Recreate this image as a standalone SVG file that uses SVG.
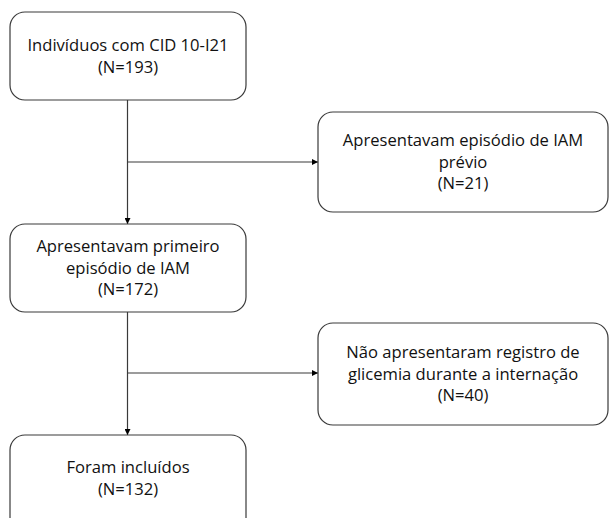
<svg xmlns="http://www.w3.org/2000/svg" width="609" height="518" viewBox="0 0 609 518">
  <defs>
    <marker id="arrow" viewBox="0 0 10 10" refX="10" refY="5" markerWidth="6" markerHeight="6" markerUnits="userSpaceOnUse" orient="auto">
      <path d="M0,0 L10,5 L0,10 z" fill="#000"/>
    </marker>
    <style>
      .box { fill: #ffffff; stroke: #3a3a3a; stroke-width: 1.2; }
      .lbl { font-family: "Open Sans", "Liberation Sans", Arial, sans-serif; font-size: 16.6px; fill: #111111; text-anchor: middle; }
      .conn { fill: none; stroke: #3a3a3a; stroke-width: 1.2; }
    </style>
  </defs>
  <rect width="609" height="518" fill="#ffffff"/>

  <g id="connectors">
    <path class="conn" d="M127.5,100 V224" marker-end="url(#arrow)"/>
    <path class="conn" d="M127.5,162 H318" marker-end="url(#arrow)"/>
    <path class="conn" d="M127.5,312 V435" marker-end="url(#arrow)"/>
    <path class="conn" d="M127.5,373 H318" marker-end="url(#arrow)"/>
  </g>

  <g id="node-individuos">
    <rect class="box" x="10" y="12" width="236" height="88" rx="15" ry="15"/>
    <text class="lbl" x="128" y="51">Indivíduos com CID 10-I21</text>
    <text class="lbl" x="128" y="73">(N=193)</text>
  </g>

  <g id="node-previo">
    <rect class="box" x="318" y="112" width="290" height="100" rx="15" ry="15"/>
    <text class="lbl" x="463" y="146">Apresentavam episódio de IAM</text>
    <text class="lbl" x="463" y="167.7">prévio</text>
    <text class="lbl" x="463" y="189.4">(N=21)</text>
  </g>

  <g id="node-primeiro">
    <rect class="box" x="10" y="224" width="236" height="88" rx="15" ry="15"/>
    <text class="lbl" x="128" y="252">Apresentavam primeiro</text>
    <text class="lbl" x="128" y="273.7">episódio de IAM</text>
    <text class="lbl" x="128" y="295.4">(N=172)</text>
  </g>

  <g id="node-glicemia">
    <rect class="box" x="318" y="323" width="290" height="102" rx="15" ry="15"/>
    <text class="lbl" x="463" y="358">Não apresentaram registro de</text>
    <text class="lbl" x="463" y="379.7">glicemia durante a internação</text>
    <text class="lbl" x="463" y="401.4">(N=40)</text>
  </g>

  <g id="node-incluidos">
    <rect class="box" x="10" y="435" width="236" height="100" rx="15" ry="15"/>
    <text class="lbl" x="128" y="473">Foram incluídos</text>
    <text class="lbl" x="128" y="495">(N=132)</text>
  </g>
</svg>
